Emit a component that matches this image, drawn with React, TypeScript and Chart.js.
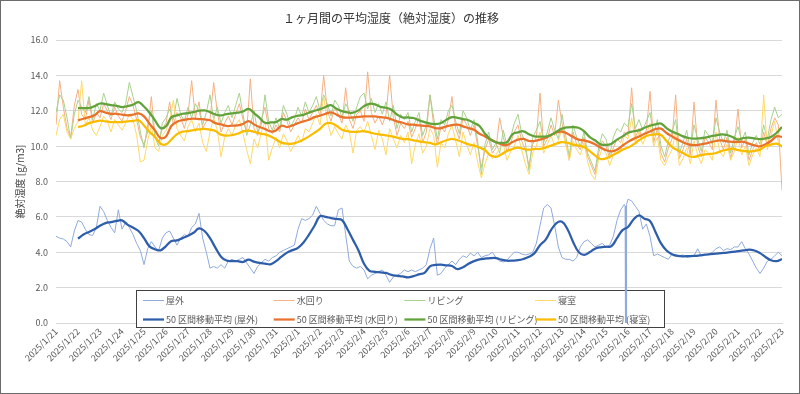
import React, { useEffect, useRef } from 'react';
import { Chart, registerables } from 'chart.js';

Chart.register(...registerables);

// ---- tick labels (one per day, x = day index) ----
const dateLabels = [
  '2025/1/21', '2025/1/22', '2025/1/23', '2025/1/24', '2025/1/25', '2025/1/26', '2025/1/27',
  '2025/1/28', '2025/1/29', '2025/1/30', '2025/1/31', '2025/2/1', '2025/2/2', '2025/2/3',
  '2025/2/4', '2025/2/5', '2025/2/6', '2025/2/7', '2025/2/8', '2025/2/9', '2025/2/10',
  '2025/2/11', '2025/2/12', '2025/2/13', '2025/2/14', '2025/2/15', '2025/2/16', '2025/2/17',
  '2025/2/18', '2025/2/19', '2025/2/20', '2025/2/21', '2025/2/22', '2025/2/23',
];

const yTicks = [0, 2, 4, 6, 8, 10, 12, 14, 16];

const seriesNames = ['屋外', '水回り', 'リビング', '寝室'];

// raw readings every 4 hours starting 2025/1/21 0:00
const RAW_STEP_DAYS = 4 / 24;
// moving average values every 6 hours starting 2025/1/22 0:00
const MA_START_DAY = 1;
const MA_STEP_DAYS = 6 / 24;

const outdoorRaw = [
  4.9, 4.8, 4.75, 4.6, 4.3, 5.2,
  5.8, 5.7, 5.3, 5.0, 4.95, 5.4,
  6.6, 6.3, 5.8, 5.4, 5.1, 6.4,
  5.3, 5.7, 5.4, 5.0, 4.5, 4.1,
  3.3, 4.2, 4.6, 4.3, 4.1, 4.8,
  5.1, 5.2, 4.8, 4.4, 4.8, 5.0,
  4.9, 5.4, 5.6, 6.2, 4.8, 4.0,
  3.1, 3.2, 3.1, 3.3, 3.1, 3.5,
  3.6, 3.5, 3.6, 3.7, 3.4, 3.1,
  2.8, 3.2, 3.4, 3.6, 3.5, 3.7,
  3.8, 4.0, 4.1, 4.2, 4.3, 4.4,
  5.3, 5.9, 5.8, 5.9, 6.1, 6.6,
  6.2, 5.8, 5.6, 5.5, 5.5, 6.4,
  6.5, 5.0, 3.5, 3.2, 3.1, 3.2,
  3.0, 2.5, 2.7, 2.8, 2.9, 3.0,
  2.7, 2.3, 2.6, 2.7, 2.8, 3.0,
  2.9, 3.0, 2.9, 3.0, 3.1, 3.3,
  4.2, 4.8, 2.7, 2.8, 3.1, 3.3,
  3.5, 3.3, 3.6, 3.8, 3.7, 3.95,
  3.8, 4.0, 3.7, 3.8, 3.85, 4.0,
  3.7, 3.5, 3.45, 3.55, 3.8, 4.0,
  4.0, 3.9, 3.85, 3.9, 4.0, 4.5,
  5.5, 6.5, 6.7, 6.5, 5.5, 4.3,
  3.7, 3.6, 3.6, 3.5, 3.7, 4.3,
  4.6, 4.7, 4.5, 4.3, 4.4, 4.5,
  4.3, 4.4, 4.9, 5.8, 6.4, 6.7,
  7.0, 6.9, 6.6, 6.3, 5.3, 5.6,
  4.9, 3.8, 3.9, 3.8, 3.7, 3.6,
  3.9, 3.75, 3.8, 3.85, 3.7, 3.75,
  3.8, 4.2, 3.8, 3.85, 3.9, 4.0,
  4.2, 4.3, 4.1, 4.2, 4.15, 4.3,
  4.3, 4.6, 4.2, 3.9, 3.5, 3.1,
  2.8, 3.1, 3.5, 3.6, 3.8, 4.0,
  3.8,
];

// short sensor drop-outs on 2/15 night: [day, value]
const outdoorSpike: [number, number][] = [
  [25.87, 6.6], [25.88, 0], [25.89, 6.5],
  [25.92, 6.6], [25.93, 0], [25.94, 6.7],
];

const waterRaw = [
  11.2, 13.7, 12.2, 11.0, 10.5, 12.3,
  13.2, 11.8, 11.5, 12.6, 11.3, 11.9,
  11.6, 12.4, 12.0, 11.5, 12.2, 11.7,
  11.4, 12.0, 12.8, 12.3, 11.5, 10.5,
  10.1, 10.8, 12.8, 10.6, 10.2, 11.0,
  11.3, 12.5, 11.2, 11.9, 11.6, 11.0,
  11.8, 13.7, 11.6, 12.5, 11.0, 11.4,
  11.5, 13.6, 11.9, 10.8, 11.3, 11.7,
  11.2, 11.8, 12.4, 11.5, 10.8, 13.8,
  11.0, 10.6, 11.5, 12.2, 11.0, 10.7,
  11.2, 10.8, 11.9, 11.4, 10.8, 11.2,
  11.6, 11.3, 12.1, 11.5, 11.9, 12.3,
  11.7, 14.0, 12.0, 11.4, 12.2, 11.8,
  11.3, 13.3, 11.5, 11.0, 11.8, 12.0,
  11.4, 14.2, 11.9, 11.3, 11.7, 11.2,
  11.8, 14.0, 11.6, 10.6, 11.3, 11.0,
  11.4, 10.5, 11.0, 11.6, 10.2, 10.8,
  12.9, 11.2, 10.1, 11.1, 10.8, 11.5,
  12.8, 11.0, 10.4, 11.6, 11.2, 10.6,
  11.2, 10.0, 8.8, 9.8, 10.4, 9.6,
  9.9, 11.6, 10.5, 9.7, 10.2, 10.8,
  11.2, 10.3, 9.8, 8.9, 10.1, 10.5,
  13.0, 10.0, 10.4, 11.2, 10.6, 12.6,
  11.3, 10.2, 9.2, 10.8, 10.1, 9.8,
  10.5, 9.4, 8.9, 8.4, 9.6, 10.3,
  10.0, 9.3, 9.9, 10.4, 10.2, 10.8,
  10.6, 13.3, 10.5, 11.0, 10.4, 10.9,
  13.1, 10.2, 11.0, 9.6, 9.1, 9.9,
  10.4, 12.9, 9.3, 9.8, 10.4, 9.5,
  12.5, 10.0, 9.4, 10.5, 10.2, 9.8,
  12.6, 10.4, 9.8, 10.5, 9.3, 10.1,
  12.1, 9.9, 10.4, 9.2, 9.8, 10.2,
  9.7, 10.8, 10.0, 11.0, 11.6, 11.2,
  7.5,
];

const livingRaw = [
  11.9, 12.9, 12.6, 11.6, 10.4, 11.8,
  12.6, 12.2, 11.9, 12.8, 11.5, 12.4,
  12.0, 13.0, 12.3, 11.7, 12.5, 12.1,
  11.9, 12.4, 13.6, 12.8, 12.0, 10.8,
  9.9, 11.2, 12.0, 10.5, 10.0, 11.3,
  11.6, 12.1, 11.5, 12.7, 11.8, 11.4,
  12.2, 11.6, 12.4, 12.0, 11.2, 11.9,
  12.9, 11.5, 12.2, 11.3, 11.9, 12.3,
  11.6, 12.3, 13.0, 11.8, 10.6, 11.2,
  12.0, 10.8, 11.2, 12.9, 11.4, 10.9,
  11.6, 11.0, 12.3, 11.8, 11.1, 11.5,
  12.2, 11.7, 12.5, 11.9, 12.3, 12.8,
  12.0, 12.9, 12.4, 11.7, 12.6, 12.3,
  11.6, 12.4, 12.0, 11.4, 12.2, 12.8,
  13.0, 12.1, 12.7, 11.9, 12.4, 11.8,
  12.5, 11.4, 12.3, 11.0, 11.8, 11.5,
  11.9, 10.8, 11.4, 11.9, 10.6, 11.2,
  12.9, 11.6, 10.4, 11.5, 11.2, 12.0,
  12.3, 11.4, 10.7, 12.0, 11.6, 10.9,
  11.5, 10.3, 8.4, 10.1, 10.8, 9.8,
  10.2, 9.6, 10.9, 10.0, 10.5, 11.3,
  11.8, 10.7, 10.2, 8.6, 10.5, 10.9,
  11.4, 10.2, 10.8, 11.6, 10.9, 10.4,
  11.8, 10.6, 9.4, 11.2, 10.5, 10.0,
  10.8, 9.6, 9.1, 8.6, 9.9, 10.7,
  10.4, 9.5, 10.5, 11.0, 10.8, 11.3,
  11.1, 12.4, 11.0, 11.5, 10.9, 11.4,
  11.9, 10.6, 11.5, 10.0, 9.4, 10.3,
  10.8, 11.5, 9.6, 10.2, 10.9, 9.8,
  11.2, 10.4, 9.7, 10.9, 10.6, 10.1,
  11.6, 10.8, 10.2, 10.9, 9.6, 10.5,
  11.1, 10.3, 10.8, 9.5, 10.2, 10.6,
  10.1, 11.2, 10.4, 11.5, 12.2, 11.6,
  11.8,
];

const bedroomRaw = [
  10.6, 11.5, 11.8, 10.8, 10.4, 11.0,
  11.4, 13.7, 11.2, 11.6, 10.9, 10.6,
  11.1, 11.7, 11.4, 10.8, 11.5, 11.2,
  10.9, 11.3, 11.8, 11.5, 10.6, 9.1,
  9.2, 10.3, 11.2, 9.9, 9.7, 10.6,
  10.9, 11.4, 12.6, 11.0, 10.6, 10.3,
  11.1, 11.5, 10.8, 11.3, 10.2, 9.7,
  10.8, 11.6, 10.9, 9.4, 10.5, 11.0,
  10.6, 11.2, 11.5, 10.7, 9.8, 9.0,
  10.4, 9.9, 10.8, 11.4, 9.2, 9.9,
  10.5, 9.9, 10.7, 10.3, 9.7, 10.1,
  10.6, 10.2, 11.0, 10.8, 11.3, 11.8,
  11.2, 12.8, 11.4, 10.6, 11.1, 10.7,
  10.4, 11.2, 10.8, 9.6, 10.9, 11.1,
  10.8, 11.4, 10.6, 9.8, 10.9, 10.4,
  9.5, 11.0, 10.4, 9.9, 10.6, 10.2,
  10.8, 9.0, 10.1, 10.7, 9.6, 10.0,
  11.0, 10.6, 8.8, 10.2, 9.9, 10.7,
  11.2, 10.3, 9.4, 10.8, 10.1, 9.5,
  10.2, 9.1, 8.2, 9.0, 9.6, 9.3,
  9.5, 9.9, 10.1, 9.2, 9.7, 10.0,
  10.6, 9.8, 9.0, 8.4, 9.6, 10.0,
  10.8, 9.6, 10.1, 10.6, 10.0, 10.3,
  11.0, 10.1, 9.2, 10.3, 9.8, 9.5,
  10.2, 9.1, 8.4, 8.1, 9.3, 9.9,
  9.6, 8.9, 9.5, 9.9, 9.7, 10.6,
  10.4, 11.6, 10.2, 10.8, 10.1, 10.6,
  11.3, 10.0, 10.5, 9.2, 8.9, 9.4,
  9.8, 10.8, 8.9, 9.3, 9.9, 9.0,
  10.3, 9.5, 9.0, 9.8, 9.6, 9.2,
  10.8, 9.7, 9.4, 10.1, 9.2, 9.7,
  10.5, 9.5, 10.0, 8.9, 9.5, 9.9,
  9.4, 12.9, 9.8, 10.6, 11.4, 10.2,
  9.9,
];

const outdoorMA = [
  4.77, 5.0, 5.15, 5.3,
  5.5, 5.65, 5.7, 5.77,
  5.8, 5.56, 5.4, 5.2,
  4.8, 4.33, 4.17, 4.11,
  4.35, 4.64, 4.67, 4.8,
  4.93, 5.1, 5.35, 5.2,
  4.8, 4.25, 3.75, 3.53,
  3.5, 3.5, 3.45, 3.58,
  3.47, 3.4, 3.36, 3.32,
  3.5, 3.75, 3.98, 4.12,
  4.25, 4.55, 5.0, 5.5,
  6.04, 6.0, 5.93, 5.88,
  5.82, 5.3, 4.7, 4.1,
  3.35, 2.95, 2.89, 2.86,
  2.83, 2.72, 2.67, 2.64,
  2.58, 2.65, 2.75, 2.83,
  3.2, 3.28, 3.3, 3.26,
  3.22, 3.05, 3.15, 3.35,
  3.5, 3.6, 3.64, 3.67,
  3.67, 3.58, 3.52, 3.53,
  3.55, 3.62, 3.74, 3.95,
  4.4, 4.7, 5.25, 5.65,
  5.72, 5.3, 4.6, 4.02,
  3.85, 4.0, 4.2, 4.28,
  4.31, 4.34, 4.8, 5.25,
  5.43, 5.85, 6.08, 5.9,
  5.77, 5.15, 4.5, 4.1,
  3.89, 3.8, 3.77, 3.78,
  3.79, 3.82, 3.86, 3.89,
  3.92, 3.95, 3.98, 4.02,
  4.06, 4.1, 4.15, 4.1,
  3.95, 3.73, 3.55, 3.5,
  3.62,
];

const waterMA = [
  11.46, 11.55, 11.64, 11.74,
  11.98, 11.89, 11.83, 11.83,
  11.78, 11.74, 11.78, 11.85,
  11.68, 11.27, 10.89, 10.46,
  10.55, 11.15, 11.38, 11.47,
  11.53, 11.55, 11.53, 11.51,
  11.46, 11.3, 11.23, 11.14,
  11.16, 11.17, 11.25, 11.42,
  11.23, 11.08, 10.97, 10.83,
  10.89, 11.15, 11.08, 11.17,
  11.3, 11.4, 11.49, 11.64,
  11.72, 11.83, 11.91, 11.78,
  11.64, 11.61, 11.62, 11.66,
  11.68, 11.68, 11.68, 11.64,
  11.61, 11.51, 11.4, 11.32,
  11.23, 11.21, 11.17, 11.15,
  11.12, 11.02, 11.02, 11.12,
  11.19, 11.21, 11.12, 11.02,
  10.93, 10.7, 10.55, 10.37,
  10.22, 10.1, 10.07, 10.23,
  10.37, 10.41, 10.29, 10.29,
  10.37, 10.46, 10.63, 10.78,
  10.82, 10.7, 10.52, 10.37,
  10.33, 10.24, 10.1, 9.92,
  9.77, 9.71, 9.8, 10.03,
  10.24, 10.41, 10.55, 10.7,
  10.83, 10.97, 10.99, 10.74,
  10.55, 10.37, 10.22, 10.1,
  10.05, 10.09, 10.14, 10.22,
  10.29, 10.33, 10.27, 10.24,
  10.24, 10.24, 10.14, 10.05,
  9.99, 10.1, 10.29, 10.55,
  10.52,
];

const livingMA = [
  12.15, 12.15, 12.15, 12.26,
  12.41, 12.38, 12.32, 12.28,
  12.21, 12.26, 12.34, 12.49,
  12.24, 11.89, 11.46, 11.02,
  11.12, 11.64, 11.74, 11.83,
  11.87, 11.92, 12.0, 12.02,
  11.92, 11.79, 11.74, 11.81,
  11.85, 11.89, 11.96, 12.1,
  11.87, 11.6, 11.32, 11.34,
  11.36, 11.53, 11.5, 11.64,
  11.72, 11.77, 11.89, 12.0,
  12.09, 12.21, 12.32, 12.11,
  11.98, 11.91, 11.89, 12.02,
  12.26, 12.39, 12.36, 12.22,
  12.17, 12.06, 11.79, 11.62,
  11.62, 11.59, 11.46, 11.36,
  11.27, 11.25, 11.31, 11.49,
  11.64, 11.6, 11.53, 11.46,
  11.31, 11.14, 10.7, 10.38,
  10.22, 10.18, 10.23, 10.67,
  10.78, 10.84, 10.67, 10.55,
  10.54, 10.54, 10.63, 10.82,
  10.99, 11.06, 11.08, 11.04,
  10.85, 10.52, 10.33, 10.1,
  10.07, 10.14, 10.37, 10.55,
  10.76, 10.84, 10.89, 11.04,
  11.15, 11.23, 11.27, 11.02,
  10.82, 10.7, 10.55, 10.46,
  10.42, 10.44, 10.48, 10.55,
  10.61, 10.67, 10.63, 10.52,
  10.37, 10.46, 10.48, 10.44,
  10.39, 10.44, 10.52, 10.74,
  11.08,
];

const bedroomMA = [
  11.08, 11.15, 11.3, 11.38,
  11.44, 11.4, 11.36, 11.36,
  11.36, 11.4, 11.42, 11.46,
  11.17, 10.8, 10.52, 10.14,
  10.1, 10.38, 10.68, 10.82,
  10.85, 10.91, 10.95, 10.98,
  10.93, 10.85, 10.65, 10.59,
  10.62, 10.7, 10.83, 10.87,
  10.81, 10.72, 10.66, 10.55,
  10.38, 10.2, 10.14, 10.14,
  10.23, 10.37, 10.55, 10.76,
  10.98, 11.27, 11.3, 11.15,
  10.93, 10.85, 10.8, 10.82,
  10.84, 10.78, 10.7, 10.65,
  10.61, 10.55, 10.48, 10.41,
  10.39, 10.33, 10.27, 10.22,
  10.18, 10.1, 10.22, 10.33,
  10.41, 10.33, 10.22, 10.1,
  10.03, 9.92, 9.77, 9.48,
  9.39, 9.54, 9.73, 9.84,
  9.92, 9.84, 9.8, 9.84,
  9.84, 9.92, 10.03, 10.14,
  10.22, 10.18, 10.09, 10.03,
  9.95, 9.73, 9.48, 9.27,
  9.31, 9.46, 9.61, 9.8,
  9.92, 10.1, 10.33, 10.52,
  10.63, 10.67, 10.63, 10.29,
  9.95, 9.77, 9.61, 9.44,
  9.39, 9.48, 9.54, 9.56,
  9.61, 9.73, 9.8, 9.86,
  9.77, 9.73, 9.69, 9.73,
  9.8, 9.99, 10.09, 10.14,
  9.99,
];

// ---- styles ----
const rawColors = ['#8FAADC', '#F4B183', '#A9D18E', '#FFD966'];
const maColors = ['#2E5EAA', '#E8722C', '#62A23B', '#F9BC00'];
const FONT = "'Noto Sans CJK JP', 'Noto Sans', sans-serif";

type Pt = { x: number; y: number };
const toPoints = (vals: number[], start: number, step: number): Pt[] =>
  vals.map((y, i) => ({ x: start + i * step, y }));

const boxLegend = {
  id: 'boxLegend',
  beforeDatasetsDraw(chart: any) {
    const ctx = chart.ctx as CanvasRenderingContext2D;
    const ds = chart.data.datasets;
    ctx.save();
    ctx.fillStyle = '#ffffff';
    ctx.fillRect(136.5, 290.5, 528, 37);
    ctx.strokeStyle = '#404040';
    ctx.lineWidth = 1;
    ctx.strokeRect(136.5, 290.5, 528, 37);
    ctx.font = `9px ${FONT}`;
    ctx.textBaseline = 'middle';
    ctx.textAlign = 'left';
    ds.forEach((d: any, i: number) => {
      const col = i % 4;
      const row = Math.floor(i / 4);
      const x = 143 + col * 130.7;
      const y = row === 0 ? 300.5 : 319.5;
      ctx.strokeStyle = d.borderColor;
      ctx.lineWidth = d.borderWidth;
      ctx.beginPath();
      ctx.moveTo(x, y);
      ctx.lineTo(x + 21, y);
      ctx.stroke();
      ctx.fillStyle = '#595959';
      ctx.fillText(d.label, x + 23, y);
    });
    ctx.restore();
  },
  afterDraw(chart: any) {
    const ctx = chart.ctx as CanvasRenderingContext2D;
    ctx.save();
    ctx.strokeStyle = '#6b6b6b';
    ctx.lineWidth = 1;
    ctx.strokeRect(0.5, 0.5, 799, 393);
    ctx.restore();
  },
};

export default function App() {
  const ref = useRef<HTMLCanvasElement>(null);

  useEffect(() => {
    document.body.style.margin = '0';
    const outdoorPts = [
      ...toPoints(outdoorRaw, 0, RAW_STEP_DAYS),
      ...outdoorSpike.map(([x, y]) => ({ x, y })),
    ].sort((a, b) => a.x - b.x);

    const raws = [
      outdoorPts,
      toPoints(waterRaw, 0, RAW_STEP_DAYS),
      toPoints(livingRaw, 0, RAW_STEP_DAYS),
      toPoints(bedroomRaw, 0, RAW_STEP_DAYS),
    ];
    const mas = [outdoorMA, waterMA, livingMA, bedroomMA].map((v) =>
      toPoints(v, MA_START_DAY, MA_STEP_DAYS)
    );

    const datasets: any[] = [];
    raws.forEach((pts, i) => {
      datasets.push({
        label: seriesNames[i],
        data: pts,
        borderColor: rawColors[i],
        backgroundColor: rawColors[i],
        borderWidth: 1,
        pointRadius: 0,
        tension: 0,
        order: 8 - i,
      });
    });
    mas.forEach((pts, i) => {
      datasets.push({
        label: `50 区間移動平均 (${seriesNames[i]})`,
        data: pts,
        borderColor: maColors[i],
        backgroundColor: maColors[i],
        borderWidth: 2.25,
        pointRadius: 0,
        tension: 0.4,
        order: 4 - i,
      });
    });

    const chart = new Chart(ref.current as HTMLCanvasElement, {
      type: 'line',
      data: { datasets },
      options: {
        responsive: false,
        animation: false,
        events: [],
        layout: { padding: { left: 0, right: 18, top: 0, bottom: 0 } },
        font: { family: FONT },
        plugins: {
          legend: { display: false },
          tooltip: { enabled: false },
          title: {
            display: true,
            text: '１ヶ月間の平均湿度（絶対湿度）の推移',
            color: '#333333',
            font: { family: FONT, size: 12, weight: 'normal' },
            padding: { top: 11, bottom: 14.6 },
          },
        },
        scales: {
          x: {
            type: 'linear',
            min: 0,
            max: dateLabels.length - 1,
            afterBuildTicks: (scale: any) => {
              scale.ticks = dateLabels.map((_, i) => ({ value: i }));
            },
            afterFit: (scale: any) => {
              scale.height = 71;
            },
            grid: { display: false, drawTicks: false },
            border: { display: true, color: '#D9D9D9' },
            ticks: {
              autoSkip: false,
              maxRotation: 45,
              minRotation: 45,
              padding: 3,
              color: '#595959',
              font: { family: FONT, size: 9 },
              callback: (v: any) => dateLabels[Math.round(Number(v))] ?? '',
            },
          },
          y: {
            min: 0,
            max: 16,
            afterBuildTicks: (scale: any) => {
              scale.ticks = yTicks.map((v) => ({ value: v }));
            },
            afterFit: (scale: any) => {
              scale.width = 56;
            },
            grid: { color: '#D9D9D9', drawTicks: false, lineWidth: 1 },
            border: { display: false },
            ticks: {
              padding: 8,
              color: '#595959',
              font: { family: FONT, size: 9 },
              callback: (v: any) => Number(v).toFixed(1),
            },
            title: {
              display: true,
              text: '絶対湿度 [g/m3]',
              color: '#404040',
              font: { family: FONT, size: 10 },
              padding: { top: 14, bottom: 0 },
            },
          },
        },
      },
      plugins: [boxLegend],
    } as any);
    return () => chart.destroy();
  }, []);

  return (
    <div style={{ position: 'absolute', left: 0, top: 0, width: 800, height: 394, background: '#ffffff' }}>
      <canvas ref={ref} width={800} height={394} style={{ display: 'block', width: 800, height: 394 }} />
    </div>
  );
}
